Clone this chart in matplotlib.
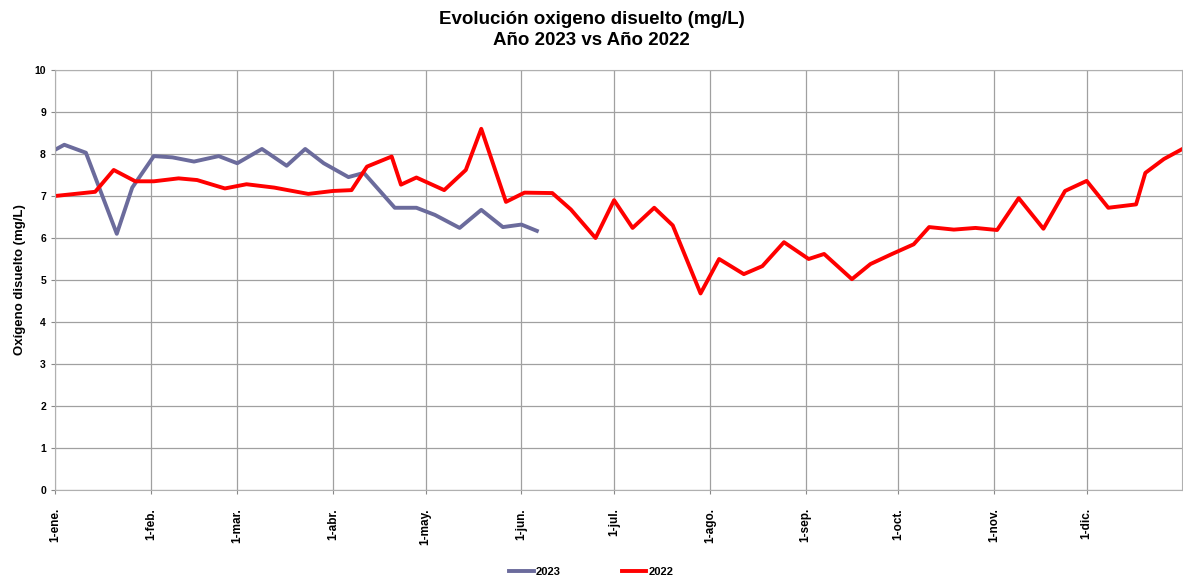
import matplotlib.pyplot as plt
from matplotlib.ticker import FixedLocator

plt.rcParams['font.family'] = ['Liberation Sans', 'DejaVu Sans']
plt.rcParams['font.weight'] = 'bold'

# Day of year (0 = 1-ene) and dissolved oxygen readings (mg/L)
days_2023 = [0, 3, 10, 20, 25, 32, 38, 45, 53, 59, 67, 75, 81, 87, 95, 100,
             110, 117, 123, 131, 138, 145, 151, 156]
oxy_2023 = [8.1, 8.22, 8.03, 6.1, 7.2, 7.95, 7.92, 7.82, 7.95, 7.78, 8.12, 7.72,
            8.12, 7.78, 7.45, 7.55, 6.72, 6.72, 6.55, 6.24, 6.67, 6.26, 6.32, 6.17]

days_2022 = [0, 13, 19, 26, 32, 40, 46, 55, 62, 71, 82, 90, 96, 101, 109, 112,
             117, 126, 133, 138, 146, 152, 161, 167, 175, 181, 187, 194, 200,
             209, 215, 223, 229, 236, 244, 249, 258, 264, 271, 278, 283, 291,
             298, 305, 312, 320, 327, 334, 341, 350, 353, 359, 365]
oxy_2022 = [7.0, 7.1, 7.62, 7.35, 7.35, 7.42, 7.38, 7.18, 7.28, 7.2, 7.05, 7.12,
            7.14, 7.7, 7.94, 7.27, 7.44, 7.14, 7.62, 8.6, 6.86, 7.08, 7.07, 6.68,
            6.0, 6.9, 6.24, 6.72, 6.3, 4.68, 5.5, 5.14, 5.33, 5.9, 5.5, 5.62,
            5.02, 5.38, 5.62, 5.85, 6.26, 6.2, 6.24, 6.19, 6.95, 6.22, 7.12,
            7.36, 6.72, 6.8, 7.55, 7.88, 8.12]

month_days = [0, 31, 59, 90, 120, 151, 181, 212, 243, 273, 304, 334]
month_labels = ['1-ene.', '1-feb.', '1-mar.', '1-abr.', '1-may.', '1-jun.',
                '1-jul.', '1-ago.', '1-sep.', '1-oct.', '1-nov.', '1-dic.']

fig = plt.figure(figsize=(11.83, 5.79), dpi=100)
ax = fig.add_axes([0.0465, 0.1537, 0.953, 0.7254])

ax.plot(days_2023, oxy_2023, color='#6b6b9c', linewidth=2.8, label='2023')
ax.plot(days_2022, oxy_2022, color='#ff0000', linewidth=2.8, label='2022')

ax.set_xlim(0, 365)
ax.set_ylim(0, 10)
ax.set_yticks(range(0, 11))
ax.xaxis.set_major_locator(FixedLocator(month_days))
ax.set_xticklabels(month_labels, rotation=90, fontsize=8.5, fontweight='bold')
ax.tick_params(axis='y', labelsize=7.5, length=3, color='#888888')
ax.tick_params(axis='x', length=3, color='#888888', pad=10)

ax.grid(True, color='#a0a0a0', linewidth=0.9)
ax.set_axisbelow(True)
for s in ax.spines.values():
    s.set_color('#b0b0b0')

ax.set_ylabel('Oxígeno disuelto (mg/L)', fontsize=9.5, fontweight='bold', labelpad=6)
fig.text(0.5, 0.948, 'Evolución oxigeno disuelto (mg/L)\nAño 2023 vs Año 2022',
         ha='center', va='center', fontsize=13.5, fontweight='bold', linespacing=1.3)

fig.legend(loc='center', bbox_to_anchor=(0.5, 0.012), ncol=2, frameon=False,
           fontsize=8, handlelength=2.2, columnspacing=5.5, handletextpad=0.2)

fig.savefig('out.png', dpi=100)
